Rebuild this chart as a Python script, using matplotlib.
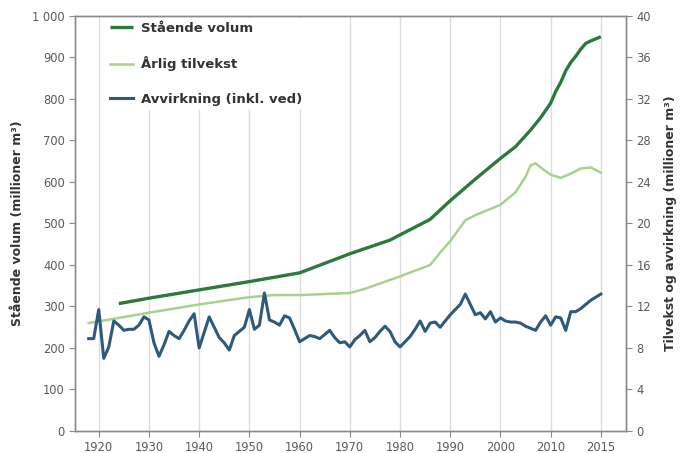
import matplotlib
matplotlib.use("Agg")
import matplotlib.pyplot as plt

# Stående volum (million m3, left axis)
vol_years = [1924, 1930, 1940, 1950, 1960, 1970, 1978, 1986, 1990, 1995, 2000, 2003,
             2006, 2008, 2010, 2011, 2012, 2013, 2014, 2015, 2016, 2017, 2018, 2019, 2020]
vol_values = [307, 320, 340, 360, 381, 427, 460, 510, 555, 607, 657, 685,
              725, 755, 790, 818, 840, 868, 888, 903, 920, 934, 940, 945, 950]

# Årlig tilvekst (million m3, right axis)
gro_years = [1918, 1930, 1940, 1950, 1955, 1960, 1970, 1973, 1980, 1986, 1988, 1990,
             1993, 1995, 2000, 2003, 2005, 2006, 2007, 2008, 2010, 2012, 2014, 2016,
             2018, 2020]
gro_values = [10.4, 11.4, 12.2, 12.9, 13.1, 13.1, 13.3, 13.7, 14.9, 16.0, 17.2, 18.3,
              20.3, 20.8, 21.8, 23.0, 24.5, 25.6, 25.8, 25.4, 24.7, 24.4, 24.8, 25.3,
              25.4, 24.9]

# Avvirkning inkl. ved (million m3, right axis)
cut_years = list(range(1918, 2021))
cut_values = [8.9, 8.9, 11.7, 7.0, 8.1, 10.6, 10.2, 9.7, 9.8, 9.8, 10.2, 11.0,
              10.7, 8.5, 7.2, 8.3, 9.6, 9.2, 8.9, 9.7, 10.6, 11.3,
              8.0, 9.5, 11.0, 10.0, 9.0, 8.5, 7.8, 9.2, 9.6, 10.0,
              11.7, 9.8, 10.2, 13.3, 10.7, 10.5, 10.2, 11.1, 10.9, 9.8,
              8.6, 8.9, 9.2, 9.1, 8.9, 9.3, 9.7, 9.0, 8.5, 8.6,
              8.1, 8.8, 9.2, 9.7, 8.6, 9.0, 9.6, 10.1, 9.6, 8.6,
              8.1, 8.6, 9.1, 9.8, 10.6, 9.6, 10.4, 10.5, 10.0, 10.6,
              11.2, 11.7, 12.2, 13.2, 12.2, 11.2, 11.4, 10.8, 11.5, 10.5,
              10.9, 10.6, 10.5, 10.5, 10.4, 10.1, 9.9, 9.7, 10.5, 11.1,
              10.2, 11.0, 10.9, 9.7, 11.5, 11.5, 11.8, 12.2, 12.6, 12.9,
              13.2]

x_tick_pos = [1920, 1930, 1940, 1950, 1960, 1970, 1980, 1990, 2000, 2010, 2020]
x_tick_labels = ["1920", "1930", "1940", "1950", "1960", "1970", "1980", "1990",
                 "2000", "2010", "2015"]
left_ticks = list(range(0, 1001, 100))
left_labels = ["0", "100", "200", "300", "400", "500", "600", "700", "800", "900", "1 000"]
right_ticks = list(range(0, 41, 4))

c_vol = "#2b7a3c"
c_gro = "#a9d18e"
c_cut = "#2e5a7c"
axis_col = "#8a8a8a"
text_col = "#5a5a5a"

fig = plt.figure(figsize=(6.83, 4.53), dpi=100)
ax = fig.add_axes([0.110, 0.0486, 0.8065, 0.9161])
ax2 = ax.twinx()

for a in (ax, ax2):
    for s in a.spines.values():
        s.set_color(axis_col)
        s.set_linewidth(1.0)
    a.tick_params(colors=axis_col, labelcolor=text_col, labelsize=8.3, length=4, width=0.8)

ax.set_xlim(1915.3, 2025.0)
ax.set_ylim(0, 1000)
ax2.set_ylim(0, 40)
ax.set_xticks(x_tick_pos)
ax.set_xticklabels(x_tick_labels)
ax.set_yticks(left_ticks)
ax.set_yticklabels(left_labels)
ax2.set_yticks(right_ticks)
ax.grid(axis="x", color="#dcdcdc", linewidth=1.0)
ax.set_axisbelow(True)

l1, = ax.plot(vol_years, vol_values, color=c_vol, lw=2.4, solid_capstyle="butt",
              label="Stående volum")
l2, = ax2.plot(gro_years, gro_values, color=c_gro, lw=1.8, label="Årlig tilvekst")
l3, = ax2.plot(cut_years, cut_values, color=c_cut, lw=2.2, label="Avvirkning (inkl. ved)")

ax.set_ylabel("Stående volum (millioner m³)", fontsize=9, color="#333333",
              fontweight="semibold", labelpad=6)
ax2.set_ylabel("Tilvekst og avvirkning (millioner m³)", fontsize=9, color="#333333",
               fontweight="semibold", labelpad=9)

leg = ax2.legend(handles=[l1, l2, l3], loc="upper left", bbox_to_anchor=(0.045, 1.012),
                 frameon=True, facecolor="white", edgecolor="none", framealpha=1.0,
                 prop={"weight": "bold", "size": 9.5}, labelspacing=1.65,
                 handlelength=1.7, handletextpad=0.6, borderpad=0.3)
for t in leg.get_texts():
    t.set_color("#333333")

fig.savefig("out.png", dpi=100)
